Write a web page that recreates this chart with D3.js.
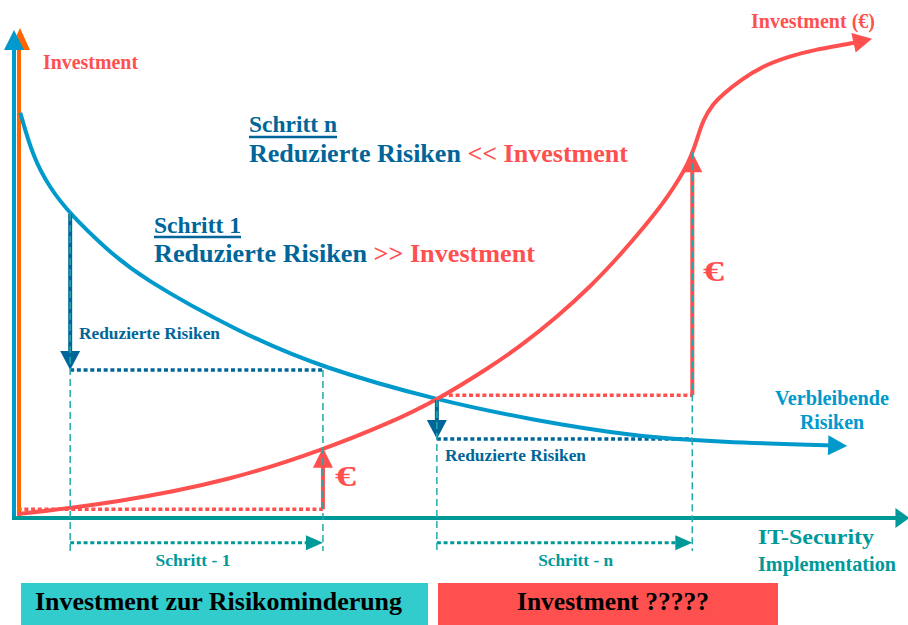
<!DOCTYPE html>
<html>
<head>
<meta charset="utf-8">
<script src="https://cdn.jsdelivr.net/npm/d3@7"></script>
<style>
  body { margin: 0; background: #fff; }
  svg { display: block; }
  text { font-family: "Liberation Serif", "Times New Roman", serif; font-weight: bold; }
</style>
</head>
<body>
<div id="chart"></div>
<script>
// remaining risk curve (blue)
const riskX = [0.6, 2, 3.9, 6.2, 10.3, 14, 25.3, 34.6, 47.4, 58.2, 69.4, 78.9, 93.5];
const riskY = [83, 74, 67.6, 62.2, 55, 49.3, 37.8, 30.6, 24, 19.9, 16.6, 15.4, 14.6];

// investment curve (red)
const investX = [0.3, 11.3, 24.4, 34.6, 42.1, 47.4, 53.4, 57.1, 60.9, 64.6, 68, 70.8, 73.3, 75.8, 76.6, 77.3, 78.4, 79.6, 81.5, 84, 87, 89.7, 94.2, 96.3];
const investY = [0.6, 2.9, 7.6, 13.8, 19.3, 24, 30.8, 35.5, 41.1, 47.2, 53.8, 59.8, 65.5, 72.9, 77.4, 81.5, 84.8, 86.9, 89.7, 92.6, 94.6, 95.9, 97.3, 98.2];

// the two steps
const stepLabels = ["Schritt - 1", "Schritt - n"];
const stepFrom = [6.2, 47.4];
const stepTo = [34.6, 76.1];
const stepLabelX = [20, 63];
const riskBefore = [62.2, 24];
const riskAfter = [30.2, 16];
const investFrom = [0.3, 48];
const investBefore = [1.6, 25];
const investAfter = [14.2, 74.9];

const W = 908, H = 625;
const red = "#ff5050", blue = "#0099cc", dark = "#006699", teal = "#009999", orange = "#ff6600";

let x = d3.scaleLinear().domain([0, 100]).range([15, 905]);
let y = d3.scaleLinear().domain([0, 100]).range([517, 30]);

let svg = d3.select("#chart").append("svg")
    .attr("width", W)
    .attr("height", H);

function head(tx, ty, fx, fy, len, w, color) {
  let a = Math.atan2(ty - fy, tx - fx);
  let c = Math.cos(a), s = Math.sin(a);
  let bx = tx - len * c, by = ty - len * s;
  svg.append("path")
    .attr("d", "M" + tx + "," + ty +
               "L" + (bx - s * w / 2) + "," + (by + c * w / 2) +
               "L" + (bx + s * w / 2) + "," + (by - c * w / 2) + "Z")
    .attr("fill", color);
}

function arrowLine(x1, y1, x2, y2, color, width, dash, len, w) {
  let a = Math.atan2(y2 - y1, x2 - x1);
  let l = svg.append("line")
    .attr("x1", x1).attr("y1", y1)
    .attr("x2", x2 - Math.cos(a) * len * 0.7)
    .attr("y2", y2 - Math.sin(a) * len * 0.7)
    .attr("stroke", color)
    .attr("stroke-width", width);
  if (dash) l.attr("stroke-dasharray", dash);
  head(x2, y2, x1, y1, len, w, color);
}

function curveArrow(xs, ys, color, len, w) {
  let line = d3.line()
      .x(d => x(d[0]))
      .y(d => y(d[1]))
      .curve(d3.curveBasis);
  let p = svg.append("path")
    .datum(xs.map((v, i) => [v, ys[i]]))
    .attr("d", line)
    .attr("fill", "none")
    .attr("stroke", color)
    .attr("stroke-width", 4);
  let node = p.node();
  let L = node.getTotalLength();
  p.attr("stroke-dasharray", (L - len * 0.7) + " " + L);
  let tip = node.getPointAtLength(L);
  let base = node.getPointAtLength(L - len);
  head(tip.x, tip.y, base.x, base.y, len, w, color);
}

// dotted level lines
stepFrom.forEach((s, i) => {
  svg.append("line")
    .attr("x1", x(s)).attr("x2", x(stepTo[i]))
    .attr("y1", y(riskAfter[i])).attr("y2", y(riskAfter[i]))
    .attr("stroke", dark).attr("stroke-width", 3.5)
    .attr("stroke-dasharray", "4,2.7");
  svg.append("line")
    .attr("x1", x(investFrom[i])).attr("x2", x(stepTo[i]))
    .attr("y1", y(investBefore[i])).attr("y2", y(investBefore[i]))
    .attr("stroke", red).attr("stroke-width", 3.5)
    .attr("stroke-dasharray", "4,2.7");
});

// axes
svg.append("line")
  .attr("x1", x(0) + 4).attr("x2", x(0) + 4)
  .attr("y1", y(0)).attr("y2", y(97))
  .attr("stroke", orange).attr("stroke-width", 4);
head(x(0) + 5, y(100.4), x(0) + 5, y(0), 22, 20, orange);
svg.append("line")
  .attr("x1", x(0) - 1).attr("x2", x(0) - 1)
  .attr("y1", y(-0.4)).attr("y2", y(97))
  .attr("stroke", blue).attr("stroke-width", 4);
head(x(0) - 1, y(100), x(0) - 1, y(0), 20, 20, blue);

// curves
curveArrow(riskX, riskY, blue, 19, 20);
curveArrow(investX, investY, red, 19, 20);

svg.append("line")
  .attr("x1", x(0) - 3).attr("x2", x(99))
  .attr("y1", y(-0.2)).attr("y2", y(-0.2))
  .attr("stroke", teal).attr("stroke-width", 4);
head(x(100.5), y(-0.2), x(0), y(-0.2), 14, 20, teal);

// step arrows
stepFrom.forEach((s, i) => {
  arrowLine(x(s), y(riskBefore[i]), x(s), y(riskAfter[i]), dark, 4, null, 19, 20);
  arrowLine(x(stepTo[i]), y(investBefore[i]), x(stepTo[i]), y(investAfter[i]), red, 4, null, 20, 20);
  arrowLine(x(s), y(-5.3), x(stepTo[i]), y(-5.3), teal, 3, "4,2.7", 17, 15);

  svg.append("line")
    .attr("x1", x(s)).attr("x2", x(s))
    .attr("y1", y(riskBefore[i])).attr("y2", y(-7))
    .attr("stroke", "#22aaaa").attr("stroke-width", 1.5)
    .attr("stroke-dasharray", "7,4");
  svg.append("line")
    .attr("x1", x(stepTo[i])).attr("x2", x(stepTo[i]))
    .attr("y1", y(Math.max(riskAfter[i], investAfter[i]))).attr("y2", y(-7))
    .attr("stroke", "#22aaaa").attr("stroke-width", 1.5)
    .attr("stroke-dasharray", "7,4");

  svg.append("text")
    .attr("x", x(stepLabelX[i])).attr("y", 566)
    .attr("text-anchor", "middle")
    .attr("font-size", 17)
    .attr("fill", teal)
    .attr("textLength", 75).attr("lengthAdjust", "spacingAndGlyphs")
    .text(stepLabels[i]);
});

// text labels
function label(tx, ty, str, size, color, len, anchor) {
  let t = svg.append("text")
    .attr("x", tx).attr("y", ty)
    .attr("font-size", size)
    .attr("fill", color)
    .attr("text-anchor", anchor || "start")
    .text(str);
  if (len) t.attr("textLength", len).attr("lengthAdjust", "spacingAndGlyphs");
  return t;
}

label(43, 69, "Investment", 20, red, 95);
label(751, 28, "Investment (€)", 20, red, 124);

label(249, 132, "Schritt n", 24, dark, 88);
svg.append("line").attr("x1", 249).attr("x2", 337).attr("y1", 137).attr("y2", 137)
  .attr("stroke", dark).attr("stroke-width", 2.5);
let t1 = label(249, 162, "", 26, dark, 379);
t1.append("tspan").text("Reduzierte Risiken ");
t1.append("tspan").attr("fill", red).text("<< Investment");

label(154, 233, "Schritt 1", 24, dark, 87);
svg.append("line").attr("x1", 154).attr("x2", 241).attr("y1", 237).attr("y2", 237)
  .attr("stroke", dark).attr("stroke-width", 2.5);
let t2 = label(154, 262, "", 26, dark, 381);
t2.append("tspan").text("Reduzierte Risiken ");
t2.append("tspan").attr("fill", red).text(">> Investment");

label(79, 339, "Reduzierte Risiken", 17, dark, 141);
label(445, 461, "Reduzierte Risiken", 17, dark, 141);

label(335, 486, "€", 29, red, 21);
label(703, 281, "€", 29, red, 21);

label(832, 405, "Verbleibende", 20, blue, 114, "middle");
label(832, 429, "Risiken", 20, blue, 64, "middle");

label(816, 544, "IT-Security", 20, teal, 116, "middle");
label(827, 571, "Implementation", 20, teal, 138, "middle");

// bottom boxes
svg.append("rect").attr("x", 21).attr("y", 583).attr("width", 407).attr("height", 42).attr("fill", "#33cccc");
svg.append("rect").attr("x", 438).attr("y", 583).attr("width", 340).attr("height", 42).attr("fill", red);
label(35, 610, "Investment zur Risikominderung", 26, "#000", 367);
label(517, 610, "Investment ?????", 26, "#000", 192);
</script>
</body>
</html>
